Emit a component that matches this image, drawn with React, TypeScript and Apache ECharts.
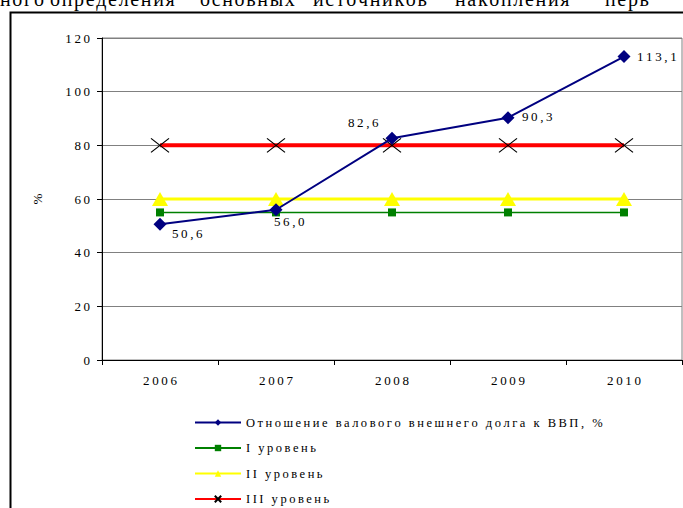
import React, { useEffect, useRef } from "react";
import * as echarts from "echarts";

const years = ["2006", "2007", "2008", "2009", "2010"];
const debtRatio = [50.6, 56.0, 82.6, 90.3, 113.1];
const level1 = [55, 55, 55, 55, 55];
const level2 = [60, 60, 60, 60, 60];
const level3 = [80, 80, 80, 80, 80];
const seriesNames = [
  "Отношение валового внешнего долга к ВВП, %",
  "I уровень",
  "II уровень",
  "III уровень",
];
const labelOffsets: [number, number][] = [
  [12, 9],
  [-2, 12],
  [-44, -16],
  [14, -1],
  [13, 0],
];
const titleWords = ["ного", "определения", "основных", "источников", "накопления", "перв"];
const titleWordX = [0, 50, 200, 313, 455, 605];

const SERIF = "'Times New Roman', 'Liberation Serif', 'DejaVu Serif', serif";
const spaced = (s: string) => s.split("").join("\u2009");

export default function App() {
  const ref = useRef<HTMLDivElement>(null);
  useEffect(() => {
    if (!ref.current) return;
    const chart = echarts.init(ref.current, undefined, { renderer: "svg" });
    chart.setOption({
      animation: false,
      backgroundColor: "#ffffff",
      textStyle: { fontFamily: SERIF, color: "#000" },
      graphic: [
        ...titleWords.map((w, i) => ({
          type: "text",
          x: titleWordX[i],
          y: 9,
          style: {
            text: w.split("").join("\u200A"),
            fontFamily: SERIF,
            fontSize: 20,
            fill: "#000",
            verticalAlign: "bottom",
          },
          z: 10,
        })),
        {
          type: "rect",
          shape: { x: 10.5, y: 12.5, width: 720, height: 520 },
          style: { fill: "none", stroke: "#000", lineWidth: 2 },
          z: 10,
        },
      ],
      grid: {
        left: 102,
        right: 1,
        top: 38,
        bottom: 148,
        show: true,
        borderColor: "#808080",
        borderWidth: 1,
      },
      xAxis: {
        type: "category",
        data: years,
        boundaryGap: true,
        axisLine: { lineStyle: { color: "#000", width: 1 } },
        axisTick: { show: true, lineStyle: { color: "#000" }, length: 5 },
        axisLabel: {
          color: "#000",
          fontFamily: SERIF,
          fontSize: 13,
          margin: 14,
          formatter: (v: string) => spaced(v),
        },
      },
      yAxis: {
        type: "value",
        min: 0,
        max: 120,
        interval: 20,
        name: "%",
        nameLocation: "middle",
        nameGap: 58,
        nameRotate: 90,
        nameTextStyle: { fontFamily: SERIF, fontSize: 13, color: "#000" },
        axisLine: { show: true, lineStyle: { color: "#000", width: 1 } },
        axisTick: { show: true, length: 5, lineStyle: { color: "#000" } },
        axisLabel: {
          color: "#000",
          fontFamily: SERIF,
          fontSize: 13,
          margin: 12,
          formatter: (v: number) => spaced(String(v)),
        },
        splitLine: { lineStyle: { color: "#808080", width: 1 } },
      },
      legend: {
        orient: "vertical",
        left: 189,
        top: 411,
        height: 200,
        padding: [5, 5, 5, 5],
        itemGap: 12.5,
        itemWidth: 46,
        itemHeight: 8,
        formatter: (name: string) => spaced(name),
        textStyle: { fontFamily: SERIF, fontSize: 12.5, color: "#000" },
        data: seriesNames,
      },
      series: [
        {
          name: seriesNames[3],
          type: "line",
          data: level3,
          symbol: "path://M0,0L10,10M10,0L0,10",
          symbolSize: [18, 14],
          lineStyle: { color: "#ff0000", width: 4 },
          itemStyle: { color: "#ff0000", borderColor: "#000", borderWidth: 1 },
          z: 3,
        },
        {
          name: seriesNames[2],
          type: "line",
          data: level2,
          symbol: "triangle",
          symbolSize: [16, 14],
          lineStyle: { color: "#ffff00", width: 3 },
          itemStyle: { color: "#ffff00" },
          z: 2,
        },
        {
          name: seriesNames[1],
          type: "line",
          data: level1,
          symbol: "rect",
          symbolSize: 8,
          lineStyle: { color: "#008000", width: 1.5 },
          itemStyle: { color: "#008000" },
          z: 2,
        },
        {
          name: seriesNames[0],
          type: "line",
          data: debtRatio.map((v, i) => ({
            value: v,
            label: {
              show: true,
              position: "inside",
              offset: labelOffsets[i],
              align: "left",
              color: "#000",
              textBorderWidth: 0,
            },
          })),
          symbol: "diamond",
          symbolSize: 13,
          lineStyle: { color: "#000080", width: 2 },
          itemStyle: { color: "#000080" },
          label: {
            show: true,
            color: "#000",
            textBorderWidth: 0,
            fontFamily: SERIF,
            fontSize: 13,
            formatter: (p: any) =>
              spaced(p.value.toFixed(1).replace(".", ",")),
          },
          z: 4,
        },
      ],
    });
    return () => chart.dispose();
  }, []);
  return (
    <div
      ref={ref}
      style={{ position: "absolute", left: 0, top: 0, width: 683, height: 508 }}
    />
  );
}
